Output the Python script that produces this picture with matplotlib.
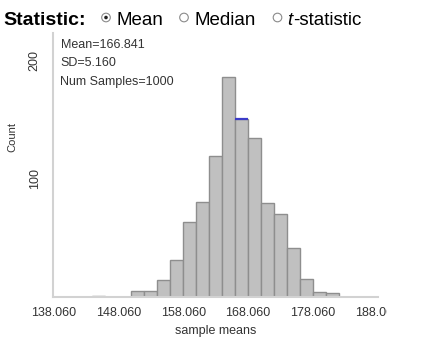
import matplotlib
matplotlib.use("Agg")
import matplotlib.pyplot as plt
from matplotlib.patches import Circle
from matplotlib.transforms import Bbox, TransformedBbox

plt.rcParams['font.family'] = ['Liberation Sans', 'DejaVu Sans']

# histogram of 1000 sample means, bins of width 2 starting at 138.06
bin_start = 138.06
bin_width = 2.0
counts = [0, 0, 0, 1, 0, 0, 5, 5, 14, 31, 63, 80, 119, 186,
          150, 134, 79, 70, 41, 15, 4, 3, 0, 0, 0]
mean_bin = 14
summary = ["Mean=166.841", "SD=5.160", "Num Samples=1000"]
x_ticks = [138.06, 148.06, 158.06, 168.06, 178.06, 188.06]
y_ticks = [100, 200]
options = ["Mean", "Median", "t-statistic"]
selected = "Mean"

W, H = 424, 343
fig = plt.figure(figsize=(W / 100, H / 100), dpi=100)

# plot area in pixels: x 53..378, y 33..297 (from top)
ax = fig.add_axes([53.3 / W, (H - 297) / H, (378 - 53.3) / W, (297 - 33) / H])

lefts = [bin_start + bin_width * i for i in range(len(counts))]
ax.bar(lefts, counts, width=bin_width, align='edge', color='#c0c0c0',
       edgecolor='#8e8e8e', linewidth=1.0, zorder=2)
ax.hlines(counts[mean_bin], lefts[mean_bin], lefts[mean_bin] + bin_width,
          color='#3b3bc8', linewidth=1.6, zorder=3)

ax.set_xlim(bin_start, bin_start + bin_width * len(counts))
ax.set_ylim(0, 223)

for side in ['top', 'right']:
    ax.spines[side].set_visible(False)
for side in ['left', 'bottom']:
    ax.spines[side].set_color('#d2d2d2')
    ax.spines[side].set_linewidth(1.5)

ax.set_xticks(x_ticks)
ax.set_xticklabels(["%.3f" % t for t in x_ticks])
ax.set_yticks(y_ticks)
ax.set_yticklabels([str(t) for t in y_ticks], rotation=90, va='center')
ax.tick_params(axis='x', length=0, pad=7, labelsize=9, labelcolor='#333333')
ax.tick_params(axis='y', length=0, pad=9, labelsize=9, labelcolor='#333333')

# the last tick label gets cut off just past the plot area
clip = TransformedBbox(Bbox.from_extents(-1, -1, 1.027, 2), ax.transAxes)
for lab in ax.get_xticklabels():
    lab.set_clip_on(True)
    lab.set_clip_box(clip)

ax.set_xlabel("sample means", fontsize=9, color='#333333')
ax.xaxis.label.set_va('center')
ax.xaxis.set_label_coords(0.5, (297 - 331) / 264)
ax.set_ylabel("Count", fontsize=8, color='#333333')
ax.yaxis.label.set_va('center')
ax.yaxis.set_label_coords((12 - 53.3) / 324.7, (297 - 137) / 264)

# overlay in pixel coordinates for the header and summary text
ov = fig.add_axes([0, 0, 1, 1], zorder=5)
ov.set_xlim(0, W)
ov.set_ylim(H, 0)
ov.axis('off')

for txt, y in zip(summary, [48, 66.5, 84.5]):
    ov.text(60.5, y, txt, fontsize=9, color='#333333', va='baseline', ha='left')

ov.text(3.5, 25, "Statistic:", fontsize=14, fontweight='bold', color='black',
        va='baseline', ha='left')

radio_x = [106, 184, 277.5]
label_x = [116.5, 195, 287.5]
for opt, cx, lx in zip(options, radio_x, label_x):
    ov.add_patch(Circle((cx, 17.5), 4.3, facecolor='white', edgecolor='#8a8a8a',
                        linewidth=0.8))
    if opt == selected:
        ov.add_patch(Circle((cx, 17.5), 1.8, facecolor='#222222', edgecolor='none'))
    if opt == "t-statistic":
        t = ov.text(lx, 25, "t", fontsize=13.5, style='italic', color='black',
                    va='baseline', ha='left')
        ov.annotate("-statistic", xy=(1, 0), xycoords=t, fontsize=13.5,
                    color='black', va='bottom', ha='left')
    else:
        ov.text(lx, 25, opt, fontsize=13.5, color='black', va='baseline', ha='left')

fig.savefig("out.png", dpi=100)
